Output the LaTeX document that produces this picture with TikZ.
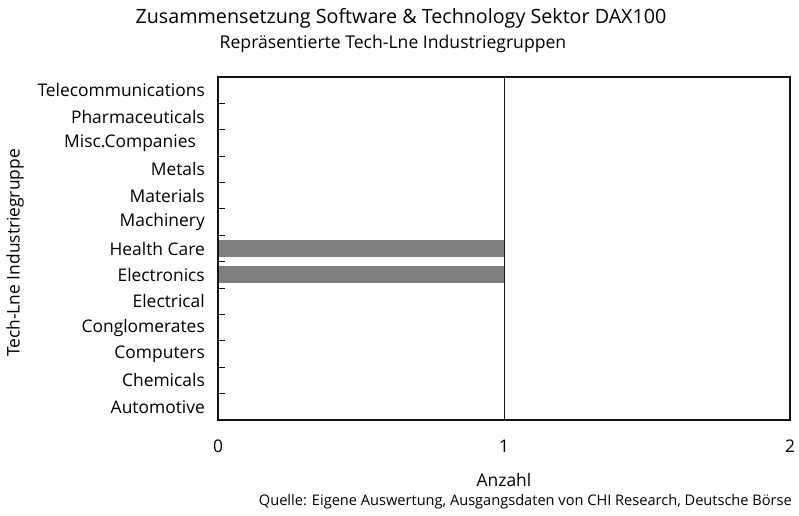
\documentclass[tikz,border=0pt]{standalone}
\usepackage{fontspec}
\setmainfont{Open Sans}
\usetikzlibrary{positioning}
\definecolor{ink}{RGB}{0,0,0}
\definecolor{barfill}{RGB}{128,128,128}
\definecolor{frameline}{RGB}{20,20,20}
\tikzset{
  cat/.style={anchor=east, inner sep=0pt, font=\fontsize{17.4}{20}\selectfont, text=ink},
  ticklbl/.style={anchor=center, inner sep=0pt, font=\fontsize{17.4}{20}\selectfont, text=ink},
  ttl/.style={anchor=center, inner sep=0pt, font=\fontsize{19.7}{23}\selectfont, text=ink},
  subttl/.style={anchor=center, inner sep=0pt, font=\fontsize{17.6}{20}\selectfont, text=ink},
  src/.style={anchor=east, inner sep=0pt, font=\fontsize{14.6}{17}\selectfont, text=ink},
  plotframe/.style={draw=frameline, line width=1.4pt},
  grid1/.style={draw=frameline, line width=0.9pt},
  tickmark/.style={draw=frameline, line width=1pt},
  bar/.style={fill=barfill, draw=none},
}
\begin{document}
\begin{tikzpicture}[x=1pt, y=-1pt]
  \useasboundingbox (0,0) rectangle (799,515);
  % titles
  \node[ttl] (title) at (401,18) {Zusammensetzung Software \& Technology Sektor DAX100};
  \node[subttl] (subtitle) at (393,44) {Repräsentierte Tech-Lne Industriegruppen};
  % bars
  \fill[bar] (218,240) rectangle (504,257);
  \fill[bar] (218,266) rectangle (504,283);
  % frame and gridline
  \draw[grid1] (504,77) -- (504,420);
  \draw[plotframe] (218,77) rectangle (790,420);
  \foreach \k in {1,...,12}
    \draw[tickmark] (218,{77+\k*26.385}) -- (225,{77+\k*26.385});
  % categories
  \foreach \lbl [count=\i from 0] in {Automotive,Chemicals,Computers,Conglomerates,Electrical,
      Electronics,Health Care,Machinery,Materials,Metals,{Misc.Companies\kern9pt},Pharmaceuticals,
      Telecommunications}
    \node[cat] (cat\i) at (205,{420-(\i+0.5)*26.385}) {\lbl};
  % axis
  \node[ticklbl] (x0) at (218,446) {0};
  \node[ticklbl] (x1) at (504,446) {1};
  \node[ticklbl] (x2) at (790,446) {2};
  \node[ticklbl] (xlabel) at (504,480) {Anzahl};
  \node[ticklbl, rotate=90] (ylabel) at (15,253) {Tech-Lne Industriegruppe};
  \node[src] (source) at (792,502) {Quelle: Eigene Auswertung, Ausgangsdaten von CHI Research, Deutsche Börse};
\end{tikzpicture}
\end{document}
